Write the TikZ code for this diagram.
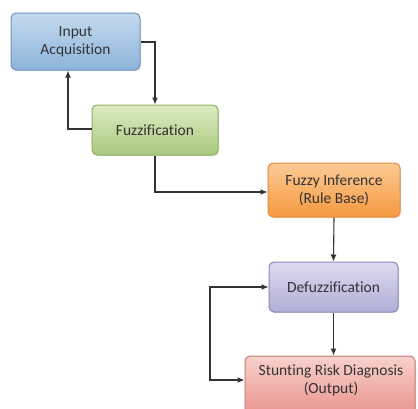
\documentclass[tikz,border=0pt]{standalone}
\usepackage{fontspec}
\setmainfont{Carlito}[Ligatures=NoCommon]
\usetikzlibrary{arrows.meta,shadows}
\definecolor{bluet}{HTML}{C4DAEE}\definecolor{blueb}{HTML}{8DB3DA}\definecolor{bluel}{HTML}{6F93BC}
\definecolor{greent}{HTML}{DCEBC3}\definecolor{greenb}{HTML}{A8C97C}\definecolor{greenl}{HTML}{8EB063}
\definecolor{oranget}{HTML}{FCCB95}\definecolor{orangeb}{HTML}{F5983F}\definecolor{orangel}{HTML}{E38D3E}
\definecolor{purpt}{HTML}{DDDBF0}\definecolor{purpb}{HTML}{B1ADD8}\definecolor{purpl}{HTML}{8C87BE}
\definecolor{redt}{HTML}{F8D0CC}\definecolor{redb}{HTML}{EA958E}\definecolor{redl}{HTML}{C97A74}
\tikzset{
  txt/.style={font=\fontsize{15.5}{18}\selectfont, text=black!80, align=center},
  box/.style={txt, rounded corners=5pt, line width=1pt, minimum height=#1,
    drop shadow={shadow xshift=1pt,shadow yshift=-1pt,opacity=0.25}},
  conn/.style={draw=black!80, line width=1.1pt, -{Latex[length=7pt,width=6pt]}},
  connb/.style={draw=black!80, line width=1.1pt, {Latex[length=7pt,width=6pt]}-{Latex[length=7pt,width=6pt]}},
}
\begin{document}
\begin{tikzpicture}[x=1pt,y=-1pt]
\clip (0,0) rectangle (418,408);
\fill[white] (0,0) rectangle (418,408);
\node[box=57pt, minimum width=129pt, draw=bluel, top color=bluet, bottom color=blueb] (inp) at (75.5,41.5) {Input\\Acquisition};
\node[box=50pt, minimum width=126pt, draw=greenl, top color=greent, bottom color=greenb] (fuz) at (155,130) {Fuzzification};
\node[box=54pt, minimum width=132pt, draw=orangel, top color=oranget, bottom color=orangeb] (inf) at (334,190) {Fuzzy Inference\\(Rule Base)};
\node[box=50pt, minimum width=129pt, draw=purpl, top color=purpt, bottom color=purpb] (def) at (333.5,287) {Defuzzification};
\node[box=58pt, minimum width=170pt, draw=redl, top color=redt, bottom color=redb] (out) at (330,385) {};
\node[txt] (outt) at (331,380) {Stunting Risk Diagnosis\\(Output)};
\coordinate (c1) at (155,42);
\coordinate (c2) at (68,129);
\coordinate (c3) at (155,192);
\coordinate (c4) at (210,287);
\draw[conn] (inp.east |- c1) -| (fuz.north -| c1);
\draw[conn] (fuz.west |- c2) -| (inp.south -| c2);
\draw[conn] (fuz.south -| c3) |- (inf.west |- c3);
\draw[conn] (inf.south) -- (def.north);
\draw[conn] (def.south) -- (out.north -| def.south);
\draw[connb] (def.west) -| (c4) |- (out.west |- outt);
\end{tikzpicture}
\end{document}
